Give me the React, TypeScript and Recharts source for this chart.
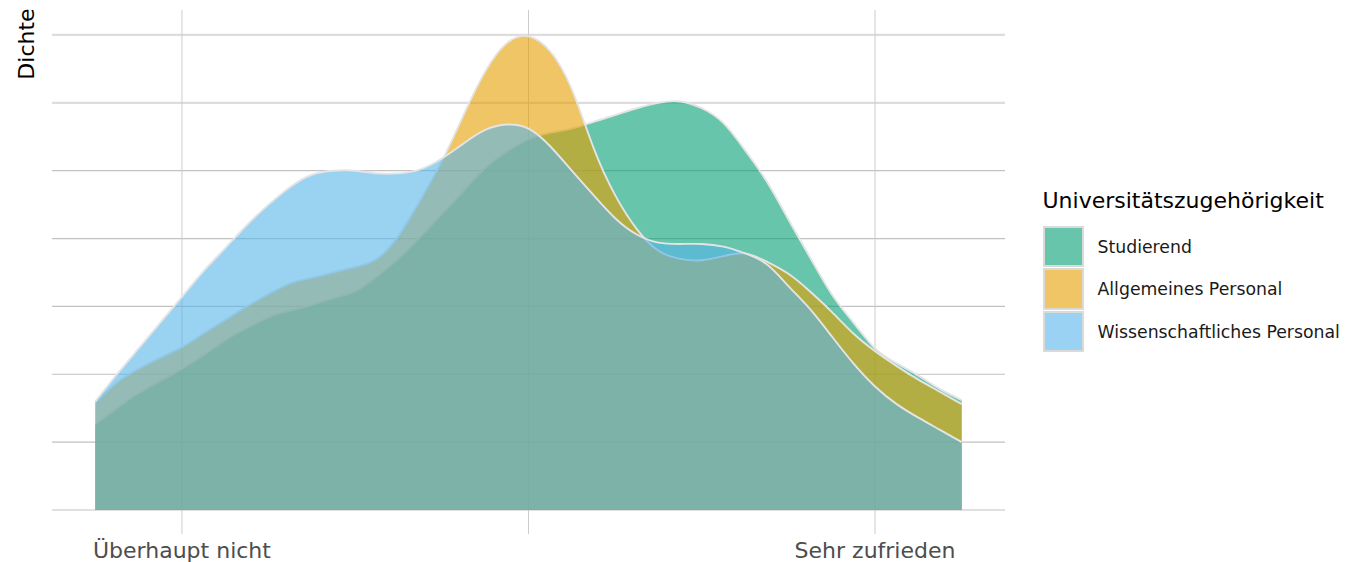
import React from 'react';
import { ComposedChart, Area, XAxis, YAxis, CartesianGrid, Legend, Label } from 'recharts';

const xValues = [0.5, 0.625, 0.75, 0.875, 1, 1.125, 1.25, 1.375, 1.5, 1.625, 1.75, 1.875, 2, 2.125, 2.25, 2.375, 2.5, 2.625, 2.75, 2.875, 3, 3.125, 3.25, 3.375, 3.5, 3.625, 3.75, 3.875, 4, 4.125, 4.25, 4.375, 4.5, 4.625, 4.75, 4.875, 5, 5.125, 5.25, 5.375, 5.5];

const studierend = [0.063, 0.075, 0.086, 0.095, 0.104, 0.114, 0.125, 0.134, 0.142, 0.147, 0.151, 0.156, 0.161, 0.172, 0.185, 0.201, 0.218, 0.235, 0.252, 0.264, 0.273, 0.278, 0.281, 0.286, 0.291, 0.296, 0.300, 0.301, 0.296, 0.285, 0.265, 0.242, 0.214, 0.186, 0.159, 0.138, 0.119, 0.108, 0.099, 0.089, 0.081];

const allgemeinesPersonal = [0.079, 0.094, 0.104, 0.112, 0.120, 0.130, 0.140, 0.150, 0.159, 0.167, 0.171, 0.175, 0.179, 0.185, 0.202, 0.228, 0.257, 0.291, 0.323, 0.344, 0.349, 0.338, 0.310, 0.267, 0.232, 0.207, 0.191, 0.185, 0.184, 0.187, 0.189, 0.183, 0.174, 0.161, 0.146, 0.130, 0.117, 0.106, 0.096, 0.087, 0.078];

const wissenschaftlichesPersonal = [0.080, 0.100, 0.119, 0.138, 0.157, 0.176, 0.193, 0.210, 0.225, 0.238, 0.247, 0.250, 0.250, 0.248, 0.248, 0.251, 0.259, 0.270, 0.280, 0.284, 0.281, 0.268, 0.250, 0.232, 0.215, 0.203, 0.197, 0.196, 0.196, 0.194, 0.189, 0.181, 0.165, 0.148, 0.128, 0.108, 0.091, 0.078, 0.068, 0.059, 0.050];

const xTicks = [1, 3, 5];
const xTickLabels: Record<number, string> = { 1: 'Überhaupt nicht', 3: '', 5: 'Sehr zufrieden' };
const yTicks = [0, 0.05, 0.1, 0.15, 0.2, 0.25, 0.3, 0.35];

const seriesKeys = ['studierend', 'allgemein', 'wissenschaftlich'];
const seriesNames = ['Studierend', 'Allgemeines Personal', 'Wissenschaftliches Personal'];
const seriesColors = ['#009E73', '#E69F00', '#56B4E9'];
const legendTitle = 'Universitätszugehörigkeit';
const yTitle = 'Dichte';

const data = xValues.map((x, i) => ({
  x,
  studierend: studierend[i],
  allgemein: allgemeinesPersonal[i],
  wissenschaftlich: wissenschaftlichesPersonal[i],
}));

const FONT = '"DejaVu Sans", Verdana, sans-serif';

const renderHLine = (props: any) => {
  const { x1, x2, y1, y2, index } = props;
  const light = index >= 6;
  return (
    <line
      key={`h-${index}`}
      x1={x1}
      x2={x2}
      y1={y1}
      y2={y2}
      stroke={light ? '#dddddd' : '#c2c2c2'}
      strokeWidth={light ? 2.2 : 1.2}
    />
  );
};

const EmptyTick = () => <g />;

const LegendBox = () => (
  <div style={{ position: 'relative', width: 305, height: 170, fontFamily: FONT }}>
    <div style={{ position: 'absolute', left: 2.5, top: 0, fontSize: 22, lineHeight: '22px', color: '#000', whiteSpace: 'nowrap' }}>
      {legendTitle}
    </div>
    {seriesNames.map((name, i) => (
      <div key={name} style={{ position: 'absolute', left: 2.5, top: 35.5 + i * 42.5, height: 42, display: 'flex', alignItems: 'center' }}>
        <div
          style={{
            width: 41.5,
            height: 41.5,
            boxSizing: 'border-box',
            border: '2px solid #dadada',
            background: seriesColors[i],
            backgroundClip: 'padding-box',
            position: 'relative',
          }}
        >
          <div style={{ position: 'absolute', inset: 0, background: '#ffffff', opacity: 0.4 }} />
        </div>
        <div style={{ marginLeft: 13.5, fontSize: 17.3, color: '#1a1a1a', whiteSpace: 'nowrap' }}>{name}</div>
      </div>
    ))}
  </div>
);

const YTitle = (props: any) => {
  const vb = props.viewBox || { x: 0, y: 10 };
  const x = vb.x + 34;
  const y = vb.y + 34;
  return (
    <text x={x} y={y} transform={`rotate(-90, ${x}, ${y})`} textAnchor="middle" fontSize={22} fontFamily={FONT} fill="#000">
      {yTitle}
    </text>
  );
};

export default function App() {
  return (
    <div style={{ position: 'absolute', left: 0, top: 0, width: 1345, height: 562, background: '#fff' }}>
      <ComposedChart width={1345} height={562} data={data} margin={{ top: 10, right: 340, bottom: 0, left: 0 }}>
        <CartesianGrid
          horizontal={renderHLine}
          vertical={{ stroke: '#c2c2c2', strokeWidth: 1.3 }}
          syncWithTicks
        />
        <XAxis
          type="number"
          dataKey="x"
          domain={[0.25, 5.75]}
          ticks={xTicks}
          tickFormatter={(v: number) => xTickLabels[v] ?? ''}
          axisLine={false}
          tickLine={false}
          height={28}
          allowDataOverflow
          tick={{ fontSize: 22, fill: '#4d4d4d', fontFamily: FONT }}
        />
        <YAxis
          type="number"
          width={52}
          domain={[-0.0177, 0.3684]}
          ticks={yTicks}
          allowDataOverflow
          tick={EmptyTick}
          axisLine={false}
          tickLine={false}
        >
          <Label content={<YTitle />} />
        </YAxis>
        {seriesKeys.map((k, i) => (
          <Area
            key={k}
            type="natural"
            dataKey={k}
            name={seriesNames[i]}
            baseValue={0}
            fill={seriesColors[i]}
            fillOpacity={0.6}
            stroke="#e4e4e4"
            strokeWidth={1.9}
            dot={false}
            activeDot={false}
            isAnimationActive={false}
          />
        ))}
        <Legend
          layout="vertical"
          align="center"
          verticalAlign="middle"
          wrapperStyle={{ left: 1040, top: 190, width: 305, height: 170 }}
          content={() => <LegendBox />}
        />
      </ComposedChart>
    </div>
  );
}
